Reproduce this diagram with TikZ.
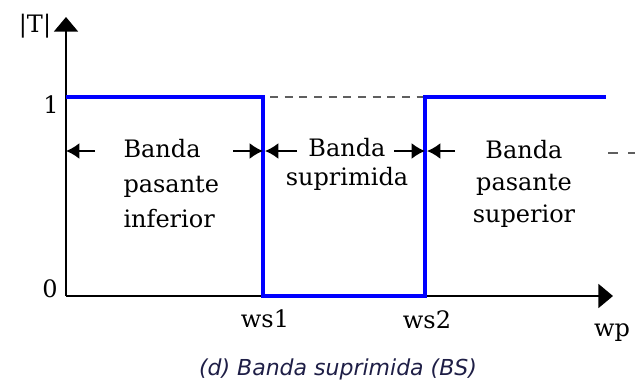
\documentclass[tikz,border=0pt]{standalone}
\usepackage{fontspec}
\setmainfont{DejaVu Serif}
\newfontfamily\capfont{DejaVu Sans}
\usetikzlibrary{arrows.meta}
\definecolor{respblue}{RGB}{0,0,255}
\definecolor{capnavy}{RGB}{30,30,70}
\definecolor{guidegray}{RGB}{95,95,95}
\tikzset{every picture/.style={line width=0.75pt}}
\tikzset{
  axis/.style={line width=1.5, -{Triangle[length=11pt,width=18pt]}},
  resp/.style={line width=2.6, color=respblue, line join=miter},
  guide/.style={line width=1.5, color=guidegray, dash pattern=on 6pt off 5pt},
  span/.style={line width=1.5, -{Latex[length=10pt,width=12pt]}},
  lbl/.style={font=\fontsize{18}{21}\selectfont, inner sep=0pt, anchor=base},
}

\begin{document}
\begin{tikzpicture}[x=0.75pt,y=0.75pt,yscale=-1,xscale=1]
\useasboundingbox (0,0) rectangle (635,389);

% Points of the plot
\coordinate (O) at (66,296);
\coordinate (ytip) at (66,17);
\coordinate (xtip) at (613,296);
\coordinate (lvl1) at (66,97);
\coordinate (s1t) at (263,97);
\coordinate (s1b) at (263,296);
\coordinate (s2b) at (425,296);
\coordinate (s2t) at (425,97);
\coordinate (rend) at (606,97);

%Straight Lines: axes
\draw [axis] (O) -- (ytip);
\draw [axis] (O) -- (xtip);

%Straight Lines: dashed guides
\draw [guide] (s1t) ++(7,0) coordinate (g1) -- (s2t);
\coordinate (g2a) at (608,153);
\coordinate (g2b) at (640,153);
\draw [guide, dash pattern=on 7.5pt off 7.5pt] (g2a) -- (g2b);

%Shape: response
\draw [resp] (lvl1) -- (s1t) -- (s1b) -- (s2b) -- (s2t) -- (rend);

%Straight Lines: band arrows
\coordinate (a1) at (95,151);
\coordinate (a2) at (233,151);
\coordinate (a3) at (297,151);
\coordinate (a4) at (394,151);
\coordinate (a5) at (455,151);
\draw [span] (a1) -- (a1 -| O);
\draw [span] (a2) -- (a2 -| s1t);
\draw [span] (a3) -- ([xshift=1.5pt]a3 -| s1t);
\draw [span] (a4) -- (a4 -| s2t);
\draw [span] (a5) -- ([xshift=1.5pt]a5 -| s2t);

% Text Node
\node [lbl] (tmag) at (35,32) {|T|};
% Text Node
\node [lbl] (tone) at (51,113) {1};
% Text Node
\node [lbl] (tzero) at (50,297) {0};
% Text Node
\node [lbl] (tws1) at (265,327) {ws1};
% Text Node
\node [lbl] (tws2) at (427,328) {ws2};
% Text Node
\node [lbl] (twp) at (612,336) {wp};
% Text Node
\node [lbl, anchor=base west, align=left, font=\fontsize{18}{26.25}\selectfont] (binf) at (123,227) {Banda\\pasante\\inferior};
% Text Node
\node [lbl, align=center, font=\fontsize{18}{21.75}\selectfont] (bsup) at (347,185) {Banda\\suprimida};
% Text Node
\node [lbl, align=center, font=\fontsize{18}{24}\selectfont] (bhigh) at (524,222) {Banda\\pasante\\superior};
% Text Node
\node [lbl, font=\fontsize{16.5}{19}\selectfont\capfont\itshape, text=capnavy] (cap) at (338,375) {(d) Banda suprimida (BS)};

\end{tikzpicture}
\end{document}
